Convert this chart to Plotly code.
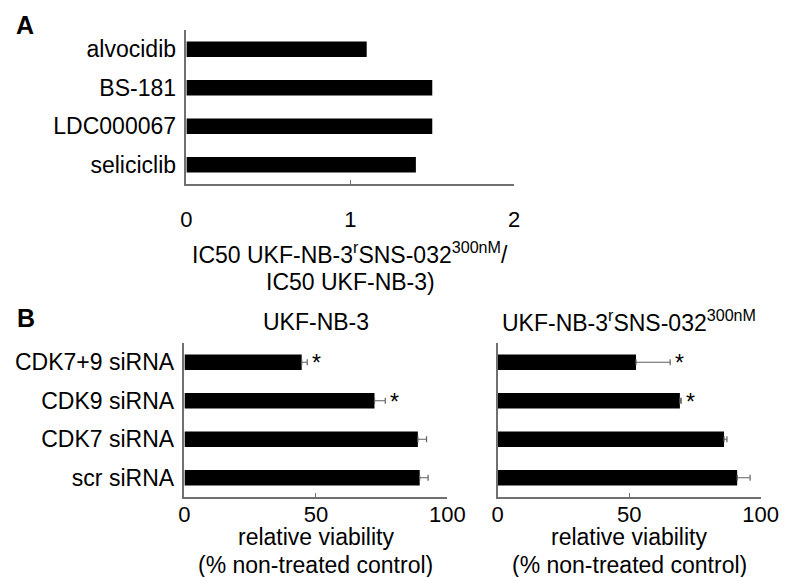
import plotly.graph_objects as go

W, H = 797, 577

# ---- data ----
drugs = ["alvocidib", "BS-181", "LDC000067", "seliciclib"]
ic50_ratio = [1.1, 1.5, 1.5, 1.4]
ticks_A = [0, 1, 2]

sirnas = ["CDK7+9 siRNA", "CDK9 siRNA", "CDK7 siRNA", "scr siRNA"]
viab_parental = [44.6, 72.3, 88.8, 89.5]
err_parental = [2.1, 4.1, 3.3, 3.2]
sig_parental = ["*", "*", "", ""]
viab_resistant = [52.6, 69.3, 86.1, 91.1]
err_resistant = [13.0, 0.5, 1.1, 4.9]
sig_resistant = ["*", "*", "", ""]
ticks_B = [0, 50, 100]

title_parental = "UKF-NB-3"
title_resistant = "UKF-NB-3<sup>r</sup>SNS-032<sup>300nM</sup>"
xtitle_A = ["IC50 UKF-NB-3<sup>r</sup>SNS-032<sup>300nM</sup>/", "IC50 UKF-NB-3)"]
xtitle_B = ["relative viability", "(% non-treated control)"]

FONT = "Liberation Sans, Arial, sans-serif"
FS = 23
FT = 22
AXC = "#707070"

def px(x):
    return x / W

def py(y):
    return 1 - y / H

fig = go.Figure()

fig.add_trace(go.Bar(x=ic50_ratio, y=drugs, orientation="h",
                     marker=dict(color="black", line=dict(width=0)),
                     xaxis="x", yaxis="y", showlegend=False, hoverinfo="skip"))

fig.add_trace(go.Bar(x=viab_parental, y=sirnas, orientation="h",
                     marker=dict(color="black", line=dict(width=0)),
                     error_x=dict(type="data", array=err_parental, symmetric=False,
                                  arrayminus=[0] * len(err_parental),
                                  color="#606060", thickness=1.2, width=3),
                     xaxis="x2", yaxis="y2", showlegend=False, hoverinfo="skip"))

fig.add_trace(go.Bar(x=viab_resistant, y=sirnas, orientation="h",
                     marker=dict(color="black", line=dict(width=0)),
                     error_x=dict(type="data", array=err_resistant, symmetric=False,
                                  arrayminus=[0] * len(err_resistant),
                                  color="#606060", thickness=1.2, width=3),
                     xaxis="x3", yaxis="y3", showlegend=False, hoverinfo="skip"))

common_x = dict(showline=True, linecolor=AXC, linewidth=1.5, ticks="inside",
                ticklen=4, tickcolor=AXC, showgrid=False, zeroline=False,
                tickfont=dict(size=FT, color="black", family=FONT))
common_y = dict(showline=True, linecolor=AXC, linewidth=1.5, ticks="",
                showgrid=False, zeroline=False, autorange="reversed",
                tickfont=dict(size=FS, color="black", family=FONT))

yA = [py(184), py(30)]
yB = [py(497), py(343)]
xA = [186, 524]
xB1 = [184, 455]
xB2 = [507, 778]

fig.update_layout(
    width=W, height=H,
    margin=dict(l=0, r=0, t=0, b=0),
    paper_bgcolor="white", plot_bgcolor="white",
    font=dict(family=FONT, size=FS, color="black"),
    bargap=0.6,
    xaxis=dict(domain=[px(xA[0]), px(xA[1])], range=[0, 2], tickvals=ticks_A,
               anchor="y", ticklabelstandoff=15, **common_x),
    yaxis=dict(domain=yA, anchor="x", ticklabelstandoff=4, **common_y),
    xaxis2=dict(domain=[px(xB1[0]), px(xB1[1])], range=[0, 100], tickvals=ticks_B,
                anchor="y2", ticklabelstandoff=-3, **common_x),
    yaxis2=dict(domain=yB, anchor="x2", ticklabelstandoff=4, **common_y),
    xaxis3=dict(domain=[px(xB2[0]), px(xB2[1])], range=[0, 100], tickvals=ticks_B,
                anchor="y3", ticklabelstandoff=-3, **common_x),
    yaxis3=dict(domain=yB, anchor="x3", showticklabels=False, **common_y),
)

def label(text, x, y, size=FS, xanchor="center"):
    return dict(text=text, x=px(x), y=py(y), xref="paper", yref="paper",
                xanchor=xanchor, yanchor="middle", showarrow=False,
                font=dict(size=size, family=FONT, color="black"))

cA = (xA[0] + xA[1]) / 2
cB1 = (xB1[0] + xB1[1]) / 2
cB2 = (xB2[0] + xB2[1]) / 2

annotations = [
    label("<b>A</b>", 8, 25, size=25, xanchor="left"),
    label("<b>B</b>", 9, 318, size=25, xanchor="left"),
    label(title_parental, cB1, 322),
    label(title_resistant, cB2, 321),
    label(xtitle_A[0], cA, 252.5),
    label(xtitle_A[1], cA, 281.5),
    label(xtitle_B[0], cB1, 537),
    label(xtitle_B[1], cB1, 564.5),
    label(xtitle_B[0], cB2, 537),
    label(xtitle_B[1], cB2, 564.5),
]

for xa, ya, vals, errs, sigs in [("x2", "y2", viab_parental, err_parental, sig_parental),
                                  ("x3", "y3", viab_resistant, err_resistant, sig_resistant)]:
    for cat, v, e, s in zip(sirnas, vals, errs, sigs):
        if s:
            annotations.append(dict(text=s, x=v + e, y=cat, xref=xa, yref=ya,
                                    xanchor="left", yanchor="middle", xshift=3,
                                    yshift=-1, showarrow=False,
                                    font=dict(size=23, family=FONT, color="black")))

fig.update_layout(annotations=annotations)

fig.write_html("out.html", config={"displayModeBar": False},
               post_script="document.body.style.margin='0';")
